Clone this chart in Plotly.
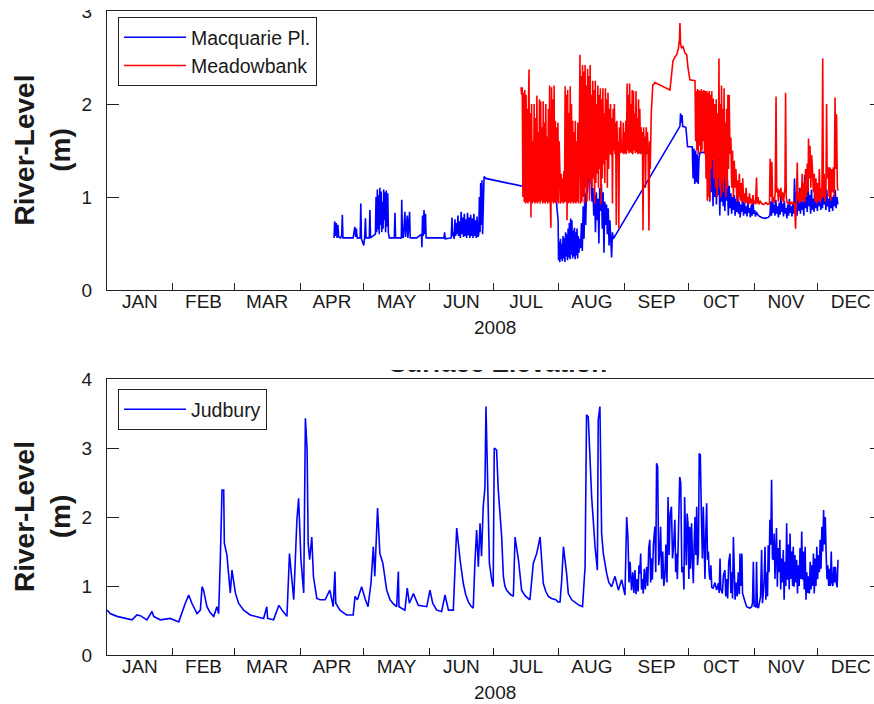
import numpy as np
import pandas as pd
import plotly.graph_objects as go

# ---------------- data ----------------
YEAR_START = "2008-01-01"
MONTH_LABELS = ["JAN", "FEB", "MAR", "APR", "MAY", "JUN", "JUL", "AUG", "SEP", "0CT", "N0V", "DEC"]
TOP_YTICKS = [0, 1, 2, 3]
BOTTOM_YTICKS = [0, 1, 2, 3, 4]
YEAR_LABEL = "2008"
Y_TITLE = "River-Level"
Y_UNIT = "(m)"
LOWER_TITLE = "Surface Elevation"

# (day of year, river level m)
MACQUARIE_PL = [
    (107.0, 0.56), (107.3, 0.74), (107.6, 0.58), (108.0, 0.72), (108.4, 0.56), (108.8, 0.70), (109.2, 0.57), (110.0, 0.56),
    (110.6, 0.58), (110.9, 0.81), (111.2, 0.56), (113.0, 0.56), (116.0, 0.56), (116.8, 0.68), (117.2, 0.57), (117.5, 0.66),
    (117.9, 0.56), (119.3, 0.56), (119.6, 0.93), (119.9, 0.55), (120.5, 0.52), (121.0, 0.48), (121.4, 0.56), (121.8, 0.77),
    (122.1, 0.56), (123.6, 0.56), (123.9, 0.86), (124.2, 0.56), (126.5, 0.60), (126.8, 1.00), (127.1, 0.62), (127.4, 1.08),
    (127.7, 0.65), (128.0, 1.02), (128.3, 0.60), (128.6, 1.10), (128.9, 0.70), (129.2, 1.06), (129.5, 0.62), (129.8, 0.95),
    (130.1, 0.66), (130.4, 1.08), (130.7, 0.75), (131.0, 1.05), (131.3, 0.62), (131.6, 1.07), (131.9, 0.68), (132.3, 1.04),
    (132.6, 0.62), (133.0, 0.56), (135.4, 0.56), (135.7, 0.83), (136.0, 0.56), (138.7, 0.56), (138.9, 0.97), (139.2, 0.58),
    (139.6, 0.56), (140.4, 0.84), (140.7, 0.57), (141.5, 0.80), (141.8, 0.56), (142.6, 0.84), (142.9, 0.56), (146.0, 0.56),
    (148.2, 0.60), (148.4, 0.46), (148.7, 0.80), (149.0, 0.58), (149.4, 0.86), (149.7, 0.60), (150.1, 0.82), (150.4, 0.56),
    (158.8, 0.56), (159.1, 0.62), (159.4, 0.55), (162.2, 0.56), (162.6, 0.78), (162.9, 0.58), (163.2, 0.62), (163.6, 0.55),
    (164.0, 0.76), (164.3, 0.58), (164.7, 0.72), (165.0, 0.60), (165.4, 0.80), (165.7, 0.58), (166.1, 0.74), (166.5, 0.56),
    (166.9, 0.84), (167.2, 0.60), (167.6, 0.78), (168.0, 0.57), (168.4, 0.82), (168.7, 0.58), (169.1, 0.76), (169.5, 0.56),
    (169.9, 0.83), (170.2, 0.59), (170.6, 0.78), (171.0, 0.56), (171.4, 0.81), (171.7, 0.58), (172.1, 0.77), (172.5, 0.56),
    (172.9, 0.82), (173.2, 0.58), (173.6, 0.75), (174.0, 0.56), (174.4, 0.79), (174.8, 0.57), (175.2, 0.60), (175.5, 1.00),
    (175.8, 0.62), (176.1, 1.15), (176.4, 0.70), (176.7, 1.18), (177.0, 0.60), (177.3, 1.10), (177.7, 1.22), (178.5, 1.20),
    (187.2, 1.16), (197.0, 1.11), (197.5, 1.05), (199.0, 1.20), (200.0, 1.00), (201.0, 1.30), (202.0, 1.05), (203.0, 1.45),
    (203.5, 1.10), (204.0, 1.48), (204.5, 1.20), (205.0, 1.30), (206.0, 1.10), (207.0, 1.20), (208.0, 1.00), (209.0, 1.25),
    (210.0, 1.05), (210.6, 1.53), (211.0, 0.95), (211.5, 1.20), (212.0, 0.89), (212.6, 0.75), (212.8, 0.32), (213.1, 0.52),
    (213.4, 0.30), (213.7, 0.55), (214.0, 0.33), (214.3, 0.50), (214.6, 0.31), (214.9, 0.58), (215.2, 0.34), (215.5, 0.56),
    (215.8, 0.30), (216.1, 0.62), (216.4, 0.36), (216.7, 0.60), (217.0, 0.32), (217.3, 0.66), (217.6, 0.35), (217.9, 0.72),
    (218.2, 0.33), (218.5, 0.77), (218.8, 0.38), (219.1, 0.75), (219.4, 0.34), (219.7, 0.64), (220.0, 0.36), (220.3, 0.67),
    (220.6, 0.33), (220.9, 0.62), (221.2, 0.37), (221.5, 0.66), (221.8, 0.34), (222.1, 0.58), (222.4, 0.40), (222.8, 0.55),
    (223.2, 0.45), (223.6, 0.72), (224.0, 0.42), (224.4, 0.90), (224.8, 0.55), (225.2, 1.04), (225.6, 0.70), (226.0, 1.12),
    (226.4, 1.05), (226.8, 1.20), (227.3, 1.18), (227.8, 1.27), (228.2, 1.15), (228.6, 0.95), (229.0, 1.10), (229.4, 0.80),
    (229.8, 1.02), (230.2, 0.62), (230.6, 1.05), (231.0, 0.75), (231.4, 0.98), (231.8, 0.50), (232.2, 1.10), (232.6, 0.85),
    (233.0, 1.14), (233.4, 0.66), (233.8, 1.05), (234.2, 0.40), (234.6, 0.95), (235.0, 0.70), (235.4, 0.92), (235.8, 0.60),
    (236.2, 0.88), (236.6, 0.48), (237.0, 0.75), (237.4, 0.58), (237.8, 0.35), (238.2, 0.62), (238.6, 0.55), (270.0, 1.76),
    (270.3, 1.90), (270.6, 1.80), (271.0, 1.88), (271.3, 1.76), (272.8, 1.75), (273.6, 1.54), (275.8, 1.54), (276.2, 1.20),
    (276.6, 1.52), (277.0, 1.14), (277.4, 1.50), (277.8, 1.16), (278.2, 1.46), (278.6, 1.14), (279.0, 1.42), (279.5, 1.48),
    (282.7, 1.48), (283.2, 1.10), (283.6, 1.45), (284.0, 0.95), (284.4, 1.44), (284.8, 1.05), (285.2, 1.40), (285.6, 0.90),
    (286.0, 1.42), (286.4, 1.00), (286.8, 1.38), (287.2, 0.92), (287.6, 1.35), (288.0, 1.02), (288.4, 1.30), (288.8, 0.80),
    (289.2, 1.33), (289.6, 0.95), (290.0, 1.28), (290.4, 0.90), (290.8, 1.25), (291.2, 0.85), (291.6, 1.22), (292.0, 0.96),
    (292.4, 1.18), (292.8, 0.80), (293.2, 1.12), (293.6, 0.88), (294.0, 1.04), (294.4, 0.82), (294.8, 1.00), (295.2, 0.86),
    (295.6, 1.02), (296.0, 0.80), (296.4, 0.98), (296.8, 0.84), (297.2, 1.04), (297.6, 0.82), (298.0, 0.95), (298.4, 0.78),
    (298.8, 0.92), (299.2, 0.84), (299.6, 1.00), (300.0, 0.80), (300.4, 0.94), (300.8, 0.82), (301.2, 0.90), (301.6, 0.79),
    (302.0, 0.96), (302.4, 0.83), (302.8, 0.88), (303.2, 0.78), (303.6, 0.92), (304.0, 0.80), (304.4, 0.98), (304.8, 0.82),
    (305.2, 0.86), (305.6, 0.79), (306.0, 0.84), (307.0, 0.80), (308.5, 0.78), (310.0, 0.77), (311.5, 0.78), (312.4, 0.80),
    (312.8, 0.95), (313.2, 0.80), (313.6, 1.00), (314.0, 0.83), (314.4, 0.92), (314.8, 0.80), (315.2, 0.97), (315.6, 0.82),
    (316.0, 0.90), (316.4, 0.78), (316.8, 0.94), (317.2, 0.81), (317.6, 1.02), (318.0, 0.84), (318.4, 0.93), (318.8, 0.79),
    (319.2, 0.96), (319.6, 0.82), (320.0, 0.88), (320.4, 0.77), (320.8, 0.92), (321.2, 0.80), (321.6, 0.98), (322.0, 0.83),
    (322.4, 0.90), (322.8, 0.79), (323.2, 0.94), (323.6, 0.82), (324.0, 1.20), (324.4, 0.84), (324.8, 1.05), (325.2, 0.80),
    (325.6, 0.98), (326.0, 0.85), (326.4, 1.10), (326.8, 0.82), (327.2, 1.00), (327.6, 0.86), (328.0, 0.95), (328.4, 0.80),
    (328.8, 1.24), (329.2, 0.88), (329.6, 1.05), (330.0, 0.84), (330.4, 1.12), (330.8, 0.90), (331.2, 1.02), (331.6, 0.82),
    (332.0, 1.08), (332.4, 0.86), (332.8, 0.98), (333.2, 0.84), (333.6, 1.15), (334.0, 0.88), (334.4, 1.04), (334.8, 0.85),
    (335.2, 1.10), (335.6, 0.90), (336.0, 1.00), (336.4, 0.86), (336.8, 1.06), (337.2, 0.88), (337.6, 1.17), (338.0, 0.92),
    (338.4, 1.02), (338.8, 0.86), (339.2, 1.08), (339.6, 0.90), (340.0, 0.98), (340.4, 0.84), (340.8, 1.05), (341.2, 0.88),
    (341.6, 1.00), (342.0, 0.85), (342.4, 1.02), (342.8, 0.90), (343.2, 1.08), (343.6, 0.88), (344.0, 1.00), (344.4, 0.92),
]

MEADOWBANK = [
    (195.1, 2.18), (195.4, 2.10), (195.7, 2.18), (196.0, 1.00), (196.3, 2.12), (196.6, 0.95), (196.9, 2.15), (197.2, 0.93),
    (197.5, 2.10), (197.8, 0.94), (198.1, 1.95), (198.4, 0.93), (198.7, 2.12), (198.9, 2.37), (199.1, 0.95), (199.5, 1.90),
    (199.8, 0.78), (200.1, 2.00), (200.4, 0.93), (200.7, 1.60), (201.0, 0.95), (201.3, 2.00), (201.6, 0.93), (201.9, 1.85),
    (202.2, 0.94), (202.6, 2.09), (202.9, 0.93), (203.2, 1.70), (203.5, 0.95), (203.8, 2.05), (204.1, 0.93), (204.4, 2.03),
    (204.7, 0.96), (205.0, 1.75), (205.3, 0.93), (205.6, 2.03), (205.9, 0.94), (206.2, 1.80), (206.5, 0.93), (206.8, 2.00),
    (207.1, 0.95), (207.4, 1.65), (207.7, 0.93), (208.0, 1.95), (208.3, 0.94), (208.6, 2.20), (208.9, 0.93), (209.2, 0.67),
    (209.5, 2.18), (209.8, 0.95), (210.1, 2.05), (210.4, 0.93), (210.7, 2.20), (211.0, 0.94), (211.3, 1.82), (211.6, 0.93),
    (211.9, 1.75), (212.2, 0.95), (212.5, 1.80), (212.8, 0.93), (213.1, 1.60), (213.5, 1.28), (213.8, 0.93), (214.1, 1.25),
    (214.4, 0.95), (214.7, 1.20), (215.0, 0.93), (215.3, 1.28), (215.6, 0.94), (215.9, 2.19), (216.2, 0.95), (216.5, 2.10),
    (216.8, 0.75), (217.1, 2.15), (217.4, 0.93), (217.7, 1.90), (218.0, 0.94), (218.3, 2.19), (218.6, 0.93), (218.9, 2.00),
    (219.2, 0.95), (219.5, 1.82), (219.8, 0.93), (220.1, 1.70), (220.4, 0.94), (220.7, 1.82), (221.0, 0.93), (221.3, 1.60),
    (221.6, 0.95), (221.9, 1.80), (222.2, 0.93), (222.6, 1.70), (222.9, 2.53), (223.2, 0.93), (223.5, 2.30), (223.8, 0.95),
    (224.1, 2.42), (224.4, 1.00), (224.7, 2.35), (225.0, 0.93), (225.3, 2.42), (225.6, 1.10), (225.9, 2.20), (226.2, 0.95),
    (226.5, 2.38), (226.8, 1.20), (227.1, 2.30), (227.4, 0.96), (227.7, 2.42), (228.0, 1.15), (228.3, 2.10), (228.6, 1.10),
    (228.9, 2.25), (229.2, 1.20), (229.5, 2.15), (229.8, 0.93), (230.1, 2.25), (230.4, 1.15), (230.7, 2.00), (231.0, 1.25),
    (231.3, 2.20), (231.6, 1.10), (231.9, 2.10), (232.2, 1.30), (232.5, 2.17), (232.8, 0.92), (233.1, 2.05), (233.4, 1.20),
    (233.7, 2.17), (234.0, 1.35), (234.3, 1.90), (234.6, 1.15), (234.9, 2.17), (235.2, 1.40), (235.5, 2.05), (235.8, 1.10),
    (236.1, 2.12), (236.4, 1.30), (236.7, 1.95), (237.0, 1.46), (237.3, 2.00), (237.6, 1.45), (237.9, 1.85), (238.2, 0.93),
    (238.5, 1.95), (238.8, 1.50), (239.1, 2.00), (239.4, 1.46), (239.7, 1.80), (240.0, 0.70), (240.3, 1.82), (240.6, 1.48),
    (240.9, 1.60), (241.2, 0.66), (241.5, 1.75), (241.8, 1.47), (242.1, 1.82), (242.4, 1.48), (242.7, 1.55), (243.0, 1.47),
    (243.3, 1.80), (243.6, 1.46), (243.9, 1.70), (244.2, 1.47), (244.5, 1.82), (244.8, 1.46), (245.1, 2.22), (245.4, 1.50),
    (245.7, 2.10), (246.0, 1.47), (246.3, 2.22), (246.6, 1.48), (246.9, 2.00), (247.2, 1.47), (247.5, 2.15), (247.8, 1.46),
    (248.1, 2.14), (248.4, 1.50), (248.7, 1.90), (249.0, 1.47), (249.3, 2.14), (249.6, 1.48), (249.9, 1.85), (250.2, 1.46),
    (250.5, 2.05), (250.8, 1.47), (251.1, 1.95), (251.4, 1.46), (251.7, 1.75), (252.0, 1.47), (252.3, 1.70), (252.6, 0.64),
    (252.9, 1.75), (253.2, 1.46), (253.5, 1.65), (253.8, 1.10), (254.1, 1.75), (254.4, 1.46), (254.7, 1.70), (255.0, 1.47),
    (255.4, 0.64), (255.7, 1.60), (256.0, 1.30), (256.5, 1.90), (257.2, 2.20), (258.2, 2.23), (265.3, 2.15), (266.0, 2.30),
    (266.7, 2.46), (267.5, 2.50), (268.5, 2.53), (269.3, 2.60), (269.8, 2.70), (270.0, 2.87), (270.3, 2.65), (270.8, 2.60),
    (271.5, 2.62), (272.3, 2.55), (273.2, 2.53), (273.8, 2.39), (274.7, 2.26), (277.1, 2.25), (277.4, 1.60), (277.7, 2.14),
    (278.0, 1.50), (278.3, 2.16), (278.6, 1.46), (278.9, 2.15), (279.2, 1.55), (279.5, 2.14), (279.8, 1.48), (280.1, 2.16),
    (280.4, 1.50), (280.7, 2.14), (281.0, 1.60), (281.3, 2.15), (281.6, 1.46), (281.9, 2.14), (282.3, 1.20), (282.6, 2.14),
    (282.9, 0.96), (283.2, 2.12), (283.5, 1.00), (283.8, 2.14), (284.1, 0.96), (284.4, 2.10), (284.7, 1.30), (285.0, 2.14),
    (285.4, 1.40), (285.7, 2.06), (286.0, 1.20), (286.4, 2.00), (286.8, 1.10), (287.1, 2.05), (287.5, 1.00), (287.8, 1.90),
    (288.1, 1.20), (288.4, 2.49), (288.7, 1.10), (289.0, 2.00), (289.3, 1.00), (289.6, 2.20), (289.9, 1.15), (290.2, 1.95),
    (290.5, 1.05), (290.8, 2.17), (291.1, 1.20), (291.4, 1.80), (291.7, 1.00), (292.0, 1.95), (292.3, 1.10), (292.6, 2.10),
    (292.9, 1.30), (293.2, 2.10), (293.6, 1.46), (294.0, 1.64), (294.4, 1.10), (294.8, 1.50), (295.2, 1.00), (295.6, 1.39),
    (296.0, 1.10), (296.4, 1.30), (296.8, 0.95), (297.2, 1.18), (297.6, 1.00), (298.0, 1.25), (298.4, 0.96), (298.8, 1.15),
    (299.2, 0.94), (299.6, 1.20), (300.0, 0.95), (300.4, 1.04), (300.8, 0.93), (301.2, 1.10), (301.6, 0.94), (302.0, 1.00),
    (302.4, 0.92), (302.8, 1.04), (303.2, 0.93), (303.6, 0.98), (304.0, 0.92), (304.4, 1.02), (304.8, 0.93), (305.2, 0.96),
    (305.6, 0.92), (306.1, 1.21), (306.4, 0.93), (306.8, 1.00), (307.2, 0.92), (307.7, 0.96), (308.5, 0.93), (309.5, 0.92),
    (310.5, 0.94), (311.5, 0.92), (312.2, 0.93), (312.5, 1.41), (312.9, 1.00), (313.3, 1.38), (313.7, 0.95), (314.1, 1.00),
    (314.5, 0.93), (314.9, 1.05), (315.3, 2.08), (315.6, 1.05), (316.0, 1.10), (316.4, 0.95), (316.8, 1.08), (317.2, 1.00),
    (317.6, 1.10), (318.0, 0.96), (318.4, 1.05), (318.8, 0.94), (319.2, 1.02), (319.5, 1.10), (319.8, 2.12), (320.1, 1.00),
    (320.5, 0.94), (321.0, 0.93), (321.5, 0.95), (322.0, 0.93), (322.5, 0.94), (323.0, 0.92), (323.5, 0.95), (324.0, 0.93),
    (324.5, 0.66), (324.8, 0.95), (325.1, 1.20), (325.3, 1.37), (325.6, 0.96), (326.0, 1.05), (326.4, 0.93), (326.8, 1.10),
    (327.2, 0.95), (327.6, 1.25), (328.0, 0.96), (328.4, 1.15), (328.8, 0.94), (329.2, 1.30), (329.6, 1.00), (330.0, 1.36),
    (330.4, 1.05), (330.6, 1.63), (330.9, 1.20), (331.3, 1.55), (331.7, 1.10), (332.1, 1.45), (332.5, 1.28), (332.9, 1.05),
    (333.3, 1.25), (333.7, 0.95), (334.1, 1.20), (334.5, 0.93), (334.9, 1.15), (335.3, 0.96), (335.7, 1.30), (336.1, 0.94),
    (336.5, 1.10), (336.9, 0.98), (337.3, 2.49), (337.6, 1.00), (338.0, 1.25), (338.4, 0.95), (338.8, 1.05), (339.1, 2.00),
    (339.4, 1.20), (339.9, 1.32), (340.3, 1.00), (340.7, 1.32), (341.1, 0.96), (341.5, 1.30), (341.9, 1.05), (342.3, 1.32),
    (342.7, 1.00), (343.1, 2.07), (343.4, 1.30), (343.8, 1.89), (344.2, 1.10), (344.6, 1.07),
]

JUDBURY = [
    (0.0, 0.65), (1.5, 0.60), (4.7, 0.56), (9.4, 0.53), (11.8, 0.51), (14.1, 0.58), (15.7, 0.57), (18.8, 0.51),
    (21.2, 0.63), (22.0, 0.56), (25.1, 0.51), (29.8, 0.53), (31.4, 0.51), (33.8, 0.48), (36.9, 0.75), (38.5, 0.87),
    (40.0, 0.75), (42.4, 0.60), (44.0, 0.65), (44.8, 0.99), (45.5, 0.94), (47.1, 0.70), (48.5, 0.62), (50.3, 0.56),
    (51.8, 0.70), (52.6, 0.60), (53.4, 1.38), (54.2, 2.39), (55.0, 2.39), (55.3, 1.62), (56.5, 1.45), (58.1, 0.90),
    (58.9, 1.23), (59.7, 1.09), (60.5, 0.90), (62.0, 0.75), (64.4, 0.65), (67.5, 0.58), (70.7, 0.56), (73.8, 0.53),
    (75.3, 0.70), (75.7, 0.53), (78.5, 0.51), (81.0, 0.72), (82.5, 0.65), (84.8, 0.56), (86.0, 1.47), (87.1, 1.09),
    (88.0, 0.80), (89.5, 1.96), (90.3, 2.27), (91.4, 1.38), (92.7, 0.90), (93.5, 3.43), (94.3, 2.97), (94.8, 1.62),
    (95.5, 1.38), (96.5, 1.71), (97.3, 1.13), (98.9, 0.82), (100.4, 0.80), (102.8, 0.80), (104.0, 0.87), (105.0, 0.94),
    (106.6, 0.70), (107.4, 1.21), (107.8, 0.75), (109.8, 0.65), (111.5, 0.61), (113.0, 0.58), (116.0, 0.58), (116.9, 0.85),
    (118.0, 0.80), (120.0, 0.99), (121.6, 0.82), (123.0, 0.70), (124.4, 1.04), (125.5, 1.57), (126.2, 1.14), (127.5, 2.13),
    (128.6, 1.47), (130.0, 1.33), (131.8, 0.94), (133.4, 0.80), (135.0, 0.74), (136.5, 0.70), (137.3, 1.21), (137.6, 0.70),
    (140.4, 0.65), (141.5, 0.97), (142.5, 0.75), (144.4, 0.89), (146.7, 0.72), (150.7, 0.70), (152.2, 0.94), (153.5, 0.75),
    (155.4, 0.65), (157.7, 0.63), (159.3, 0.87), (160.9, 0.65), (163.2, 0.65), (164.8, 1.84), (166.4, 1.38), (167.9, 1.04),
    (169.0, 0.88), (170.3, 0.77), (171.5, 0.71), (172.6, 0.68), (173.4, 1.35), (174.2, 1.81), (175.0, 1.28), (175.8, 1.91),
    (176.5, 1.43), (177.3, 2.15), (178.1, 2.42), (178.6, 3.60), (179.2, 2.78), (180.2, 1.33), (181.3, 1.09), (182.0, 0.99),
    (182.5, 3.00), (183.6, 2.97), (184.4, 2.39), (185.2, 2.00), (186.0, 1.71), (186.8, 1.14), (187.5, 1.00), (188.3, 0.94),
    (190.0, 0.88), (191.5, 0.85), (192.3, 1.71), (193.9, 1.38), (195.4, 0.94), (197.0, 0.86), (199.3, 0.80), (200.9, 1.33),
    (202.5, 1.47), (204.1, 1.71), (204.9, 1.38), (205.6, 1.04), (206.8, 0.92), (208.0, 0.85), (209.5, 0.82), (211.5, 0.80),
    (212.5, 0.77), (213.5, 0.77), (214.3, 1.09), (215.1, 1.57), (216.6, 1.18), (217.4, 0.89), (219.0, 0.80), (221.3, 0.75),
    (222.5, 0.72), (224.1, 0.70), (225.3, 1.28), (226.0, 3.48), (226.8, 3.45), (227.6, 2.87), (228.4, 2.29), (230.0, 1.57),
    (231.1, 1.23), (231.5, 3.41), (232.3, 3.60), (233.1, 1.76), (233.9, 1.47), (235.5, 1.18), (236.5, 1.05), (237.8, 0.99),
    (239.4, 1.14), (241.0, 0.94), (242.5, 1.09), (244.1, 0.87), (244.9, 2.00), (245.5, 1.71), (246.0, 1.05), (246.5, 1.35),
    (247.2, 0.94), (247.8, 1.20), (248.3, 0.90), (248.8, 1.23), (249.3, 0.88), (249.8, 1.10), (250.3, 0.92), (250.7, 1.30),
    (251.1, 1.18), (251.5, 1.47), (251.9, 0.95), (252.3, 1.10), (252.7, 0.89), (253.2, 1.25), (253.7, 0.95), (254.3, 1.28),
    (254.8, 1.00), (255.3, 1.55), (255.8, 1.67), (256.2, 1.05), (256.6, 1.40), (257.0, 1.09), (257.5, 1.60), (258.2, 1.86),
    (258.6, 1.20), (259.0, 2.78), (259.5, 2.73), (260.0, 1.30), (260.5, 1.47), (260.9, 1.86), (261.4, 1.10), (261.9, 1.50),
    (262.4, 1.00), (262.9, 1.14), (263.4, 1.60), (263.9, 1.05), (264.4, 2.29), (264.9, 1.45), (265.4, 2.05), (266.0, 2.15),
    (266.5, 1.40), (267.0, 1.57), (267.6, 1.96), (268.0, 1.20), (268.3, 1.47), (268.8, 1.10), (269.3, 1.80), (269.9, 2.58),
    (270.4, 2.49), (270.9, 1.20), (271.5, 1.28), (271.9, 0.95), (272.2, 2.29), (272.6, 1.47), (273.0, 1.30), (273.4, 2.05),
    (273.8, 1.91), (274.2, 1.10), (274.6, 1.86), (275.0, 1.25), (275.5, 1.91), (275.9, 1.40), (276.3, 1.04), (276.7, 1.60),
    (277.1, 2.00), (277.5, 1.45), (277.9, 2.15), (278.3, 1.30), (278.7, 1.47), (279.1, 2.92), (279.6, 2.90), (280.2, 1.91),
    (280.6, 1.40), (281.0, 2.15), (281.4, 1.57), (281.8, 1.10), (282.2, 1.80), (282.6, 2.20), (283.0, 1.38), (283.4, 1.50),
    (283.8, 1.18), (284.2, 1.09), (284.6, 1.30), (285.0, 0.98), (285.7, 0.97), (286.5, 1.05), (287.3, 0.94), (288.1, 1.04),
    (288.5, 0.90), (288.9, 1.40), (289.3, 0.95), (290.0, 0.89), (290.5, 1.15), (291.2, 1.23), (291.6, 0.85), (292.0, 1.10),
    (292.5, 0.82), (293.0, 1.35), (293.6, 1.47), (294.0, 0.90), (294.4, 1.20), (294.8, 0.82), (295.2, 1.71), (295.6, 1.00),
    (296.0, 0.80), (296.5, 1.05), (297.0, 0.85), (297.5, 1.20), (298.0, 0.88), (298.3, 1.47), (298.8, 1.00), (299.2, 1.47),
    (299.5, 0.90), (299.9, 0.85), (300.5, 0.78), (301.4, 0.70), (302.2, 0.69), (303.0, 0.68), (303.8, 0.70), (304.2, 0.75),
    (304.6, 1.35), (305.0, 0.70), (305.4, 0.72), (305.8, 0.69), (306.1, 1.35), (306.5, 0.70), (307.0, 0.68), (307.6, 0.80),
    (308.0, 0.85), (308.5, 1.52), (308.9, 0.75), (309.3, 0.90), (309.7, 1.10), (310.1, 1.57), (310.5, 0.80), (310.9, 1.20),
    (311.3, 0.85), (311.6, 1.59), (312.0, 1.20), (312.4, 1.96), (312.8, 1.60), (313.2, 2.54), (313.6, 1.40), (314.0, 1.38),
    (314.4, 1.76), (314.8, 1.10), (315.1, 1.65), (315.5, 1.84), (315.9, 0.99), (316.3, 1.55), (316.7, 1.20), (317.1, 1.67),
    (317.5, 0.95), (317.9, 1.40), (318.3, 1.05), (318.7, 1.52), (319.1, 0.80), (319.5, 1.35), (319.9, 1.00), (320.3, 1.91),
    (320.7, 1.09), (321.1, 1.60), (321.5, 0.95), (321.9, 1.76), (322.3, 1.10), (322.7, 1.50), (323.1, 1.00), (323.4, 1.57),
    (323.8, 0.99), (324.2, 1.45), (324.6, 1.05), (325.0, 1.38), (325.4, 0.89), (325.8, 1.30), (326.2, 1.00), (326.6, 1.55),
    (327.0, 1.10), (327.4, 1.79), (327.8, 1.09), (328.2, 1.50), (328.6, 0.95), (329.0, 1.57), (329.4, 0.80), (329.8, 1.20),
    (330.2, 0.90), (330.6, 1.14), (331.0, 0.89), (331.4, 1.35), (331.8, 0.95), (332.2, 1.30), (332.6, 1.00), (332.9, 1.47),
    (333.3, 0.89), (333.7, 1.40), (334.1, 1.00), (334.5, 1.57), (334.9, 1.10), (335.3, 1.45), (335.7, 1.20), (336.1, 1.67),
    (336.5, 1.25), (336.9, 1.86), (337.3, 1.50), (337.7, 2.10), (338.1, 1.60), (338.5, 2.00), (338.9, 1.47), (339.3, 1.10),
    (339.7, 1.30), (340.1, 1.00), (340.5, 1.25), (340.9, 1.00), (341.3, 1.50), (341.7, 1.05), (342.1, 1.00), (342.5, 1.28),
    (342.9, 1.05), (343.3, 1.28), (343.7, 1.04), (344.1, 0.98), (344.5, 1.38),
]

# ---------------- helpers ----------------
BASE = pd.Timestamp(YEAR_START)


def to_series(pairs):
    days, levels = zip(*pairs)
    dates = BASE + pd.to_timedelta(np.array(days, dtype=float), unit="D")
    return dates, list(levels)


month_starts = pd.date_range(YEAR_START, periods=13, freq="MS")
month_mids = [month_starts[i] + (month_starts[i + 1] - month_starts[i]) / 2 for i in range(12)]

W, H = 874, 704
LEFT = 107
PLOT_W = W - LEFT


def py(px):
    return 1 - px / H


def pxx(px):
    return (px - LEFT) / PLOT_W


FONT = "Liberation Sans, Arial, sans-serif"
TXT = "#1a1a1a"
AX = "#222222"
BLUE = "#0000ff"
RED = "#ff0000"
LW = 1.6

x_end = "2008-12-27 11:00"

fig = go.Figure()

d, v = to_series(MACQUARIE_PL)
fig.add_trace(go.Scatter(x=d, y=v, mode="lines", name="Macquarie Pl.",
                         line=dict(color=BLUE, width=LW), xaxis="x", yaxis="y", legend="legend"))
d, v = to_series(MEADOWBANK)
fig.add_trace(go.Scatter(x=d, y=v, mode="lines", name="Meadowbank",
                         line=dict(color=RED, width=LW), xaxis="x", yaxis="y", legend="legend"))
d, v = to_series(JUDBURY)
fig.add_trace(go.Scatter(x=d, y=v, mode="lines", name="Judbury",
                         line=dict(color=BLUE, width=LW), xaxis="x2", yaxis="y2", legend="legend2"))

# empty traces so right-side tick overlays render
fig.add_trace(go.Scatter(x=[], y=[], xaxis="x", yaxis="y3", showlegend=False, hoverinfo="skip"))
fig.add_trace(go.Scatter(x=[], y=[], xaxis="x2", yaxis="y4", showlegend=False, hoverinfo="skip"))

xcommon = dict(
    type="date", range=[YEAR_START, x_end], domain=[0, 1], automargin=False,
    showline=True, linecolor=AX, linewidth=1, mirror=True,
    tickmode="array", tickvals=month_mids, ticktext=MONTH_LABELS, ticks="",
    ticklabelstandoff=-6,
    minor=dict(tickmode="array", tickvals=list(month_starts[1:12]), ticks="inside",
               ticklen=7, tickwidth=1, tickcolor=AX, showgrid=False),
    showgrid=False, zeroline=False,
    tickfont=dict(family=FONT, size=19, color=TXT),
)
ycommon = dict(
    showline=True, linecolor=AX, linewidth=1, mirror=False, automargin=False,
    ticks="inside", ticklen=12, tickwidth=1, tickcolor=AX,
    showgrid=False, zeroline=False,
    tickfont=dict(family=FONT, size=19, color=TXT),
    ticklabelstandoff=10,
)
yright = dict(showline=False, ticks="inside", ticklen=4, tickwidth=1, tickcolor=AX, automargin=False,
              showticklabels=False, showgrid=False, zeroline=False, side="right")

fig.update_layout(
    template="none",
    width=W, height=H,
    margin=dict(l=LEFT, r=0, t=0, b=0, pad=0, autoexpand=False),
    paper_bgcolor="white", plot_bgcolor="white",
    xaxis=dict(anchor="y", **xcommon),
    yaxis=dict(domain=[py(290), py(11)], anchor="x", range=[0, 3], tickmode="array",
               tickvals=TOP_YTICKS, **ycommon),
    yaxis3=dict(overlaying="y", anchor="x", range=[0, 3], tickmode="array",
                tickvals=TOP_YTICKS[1:-1], **yright),
    xaxis2=dict(anchor="y2", **xcommon),
    yaxis2=dict(domain=[py(655), py(379)], anchor="x2", range=[0, 4], tickmode="array",
                tickvals=BOTTOM_YTICKS, **ycommon),
    yaxis4=dict(overlaying="y2", anchor="x2", range=[0, 4], tickmode="array",
                tickvals=BOTTOM_YTICKS[1:-1], **yright),
    showlegend=True,
    legend=dict(x=pxx(118), y=py(17), xanchor="left", yanchor="top",
                bgcolor="white", bordercolor=AX, borderwidth=1,
                font=dict(family=FONT, size=19.5, color=TXT), itemwidth=62, tracegroupgap=0),
    legend2=dict(x=pxx(118), y=py(389), xanchor="left", yanchor="top",
                 bgcolor="white", bordercolor=AX, borderwidth=1,
                 font=dict(family=FONT, size=19.5, color=TXT), itemwidth=62),
)

ann_common = dict(xref="paper", yref="paper", showarrow=False)
for ycen in (150.5, 517):
    fig.add_annotation(x=pxx(42), y=py(ycen), text=f"<b>{Y_TITLE}</b><br><b>{Y_UNIT}</b>",
                       textangle=-90, xanchor="center", yanchor="middle",
                       font=dict(family=FONT, size=28, color=TXT), **ann_common)
for ycen in (328, 692):
    fig.add_annotation(x=pxx(495), y=py(ycen), text=YEAR_LABEL, xanchor="center", yanchor="middle",
                       font=dict(family=FONT, size=19, color=TXT), **ann_common)

# lower-panel title: in the reference only its bottom edge is visible
fig.add_annotation(x=pxx(498), y=py(379.5), text=f"<b>{LOWER_TITLE}</b>", xanchor="center",
                   yanchor="bottom", font=dict(family=FONT, size=26, color=AX), **ann_common)
# white masks (drawn after, so on top) hiding the upper part of the title and of the top "3" label
fig.add_annotation(x=pxx(498), y=py(369.5), text="&nbsp;", xanchor="center", yanchor="bottom",
                   width=300, height=32, bgcolor="white", borderpad=0, borderwidth=0, **ann_common)
fig.add_annotation(x=pxx(90), y=py(10), text="&nbsp;", xanchor="center", yanchor="bottom",
                   width=26, height=10, bgcolor="white", borderpad=0, borderwidth=0, **ann_common)

fig.write_html("out.html")
